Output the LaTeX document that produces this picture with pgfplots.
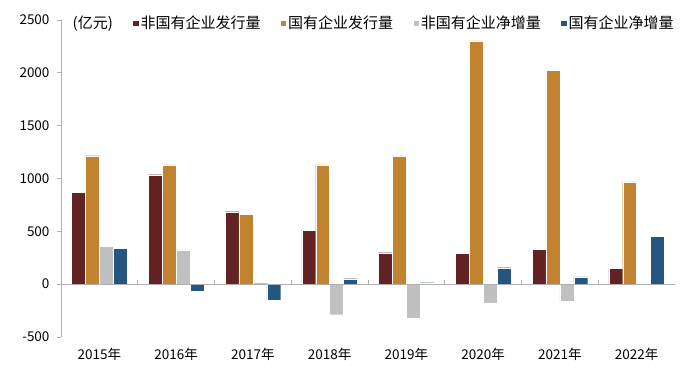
\documentclass[border=0pt]{standalone}
\usepackage{pgfplots}
\pgfplotsset{compat=1.18}
\usepackage{fontspec}
\setmainfont{Noto Sans CJK SC}
\definecolor{cA}{RGB}{99,35,36}
\definecolor{cB}{RGB}{193,131,47}
\definecolor{cC}{RGB}{192,192,192}
\definecolor{cD}{RGB}{36,86,128}
\definecolor{axg}{RGB}{175,175,175}
\begin{document}
\begin{tikzpicture}
\useasboundingbox (-61bp,-34bp) rectangle (639bp,337bp);
\begin{axis}[
  at={(0,0)}, anchor=south west,
  scale only axis, width=614bp, height=317bp,
  xmin=-0.5, xmax=7.5, ymin=-500, ymax=2500,
  ytick={-500,0,500,1000,1500,2000,2500},
  xtick={0,1,2,3,4,5,6,7},
  xticklabels={2015年,2016年,2017年,2018年,2019年,2020年,2021年,2022年},
  axis x line*=bottom, axis y line*=left,
  x axis line style={draw=none},
  y axis line style={axg, line width=0.8bp},
  xtick style={draw=none},
  ytick style={axg, line width=0.8bp},
  tick align=outside, major tick length=4bp,
  /pgf/number format/assume math mode=true,
  /pgf/number format/1000 sep={},
  ticklabel style={font=\fontsize{13.5bp}{15bp}\selectfont},
  yticklabel style={xshift=-4bp},
  xticklabel style={yshift=-4bp},
  legend columns=5,
  legend style={draw=none, fill=none, font=\fontsize{15bp}{17bp}\selectfont,
    at={(rel axis cs:0,1)}, anchor=west, xshift=10bp, yshift=-3bp, inner sep=0pt,
    nodes={inner sep=1.5bp},
    /tikz/every even column/.append style={column sep=18bp}},
  legend image code/.code={\fill (0bp,-3.2bp) rectangle (6.4bp,3.2bp);},
]
\addlegendimage{empty legend}
\addlegendentry{(亿元)}
\addplot[ybar, bar width=13.9bp, fill=cA, draw=white, line width=0.3bp, bar shift=-20.85bp] coordinates {
(0,868) (1,1036) (2,686) (3,509) (4,298) (5,289) (6,329) (7,149)};
\addlegendentry{非国有企业发行量}
\addplot[ybar, bar width=13.9bp, fill=cB, draw=white, line width=0.3bp, bar shift=-6.95bp] coordinates {
(0,1216) (1,1130) (2,664) (3,1130) (4,1213) (5,2303) (6,2022) (7,967)};
\addlegendentry{国有企业发行量}
\addplot[ybar, bar width=13.9bp, fill=cC, draw=white, line width=0.3bp, bar shift=6.95bp] coordinates {
(0,358) (1,324) (2,18) (3,-289) (4,-324) (5,-184) (6,-163) (7,0)};
\addlegendentry{非国有企业净增量}
\addplot[ybar, bar width=13.9bp, fill=cD, draw=white, line width=0.3bp, bar shift=20.85bp] coordinates {
(0,342) (1,-64) (2,-149) (3,52) (4,14) (5,156) (6,68) (7,452)};
\addlegendentry{国有企业净增量}
\addplot[forget plot, axg, line width=1.1bp, mark=none] coordinates {(-0.5,0) (7.5,0)};
\addplot[forget plot, ycomb, axg, line width=0.8bp, mark=none] coordinates {
(0.5,40) (1.5,40) (2.5,40) (3.5,40) (4.5,40) (5.5,40) (6.5,40) (7.5,40)};
\end{axis}
\end{tikzpicture}
\end{document}
